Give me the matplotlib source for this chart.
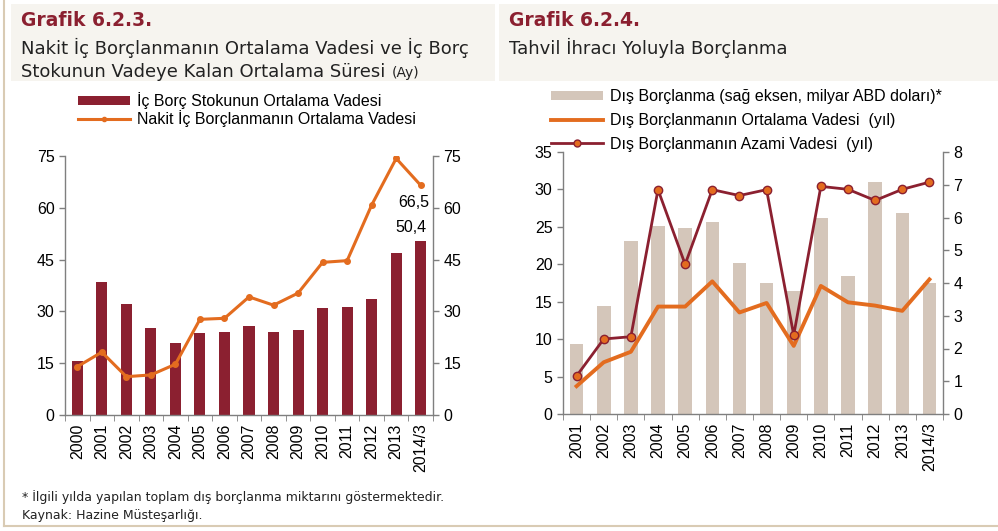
import matplotlib
matplotlib.use("Agg")
import matplotlib.pyplot as plt
from matplotlib.patches import Rectangle
from matplotlib.lines import Line2D
import numpy as np

plt.rcParams['font.family'] = ['Liberation Sans', 'DejaVu Sans']

# ---- Data: Grafik 6.2.3 ----
years_l = ["2000", "2001", "2002", "2003", "2004", "2005", "2006", "2007",
           "2008", "2009", "2010", "2011", "2012", "2013", "2014/3"]
ic_borc_stok = [15.7, 38.6, 32.2, 25.2, 20.8, 23.7, 24.1, 25.8, 24.0, 24.5,
                31.1, 31.2, 33.7, 47.0, 50.4]
nakit_ic = [14.0, 18.2, 11.1, 11.6, 14.7, 27.7, 28.0, 34.2, 31.8, 35.3,
            44.2, 44.7, 60.8, 74.3, 66.5]
left_ticks = [0, 15, 30, 45, 60, 75]

# ---- Data: Grafik 6.2.4 ----
years_r = ["2001", "2002", "2003", "2004", "2005", "2006", "2007", "2008",
           "2009", "2010", "2011", "2012", "2013", "2014/3"]
dis_borc = [9.4, 14.4, 23.1, 25.1, 24.8, 25.6, 20.2, 17.5, 16.4, 26.2,
            18.4, 31.0, 26.9, 17.5]
dis_ort = [0.85, 1.58, 1.90, 3.28, 3.28, 4.05, 3.10, 3.39, 2.08, 3.91,
           3.41, 3.31, 3.15, 4.11]
dis_azami = [1.16, 2.29, 2.36, 6.85, 4.57, 6.85, 6.67, 6.85, 2.41, 6.95,
             6.86, 6.52, 6.86, 7.08]
r_left_ticks = [0, 5, 10, 15, 20, 25, 30, 35]
r_right_ticks = [0, 1, 2, 3, 4, 5, 6, 7, 8]

DARKRED = "#8b2030"
ORANGE = "#e36c1f"
TAN = "#d4c6ba"
SPINE = "#7f7f7f"
BOXBG = "#f6f4ef"
FRAME = "#d9cbb4"
FS = 11.5

W, H = 998, 531
fig = plt.figure(figsize=(W / 100, H / 100), dpi=100)
fig.patch.set_facecolor("white")

def fx(px):
    return px / W

def fy(py):
    return 1 - py / H

# frame lines
fig.add_artist(Line2D([fx(4), fx(4)], [fy(0), fy(526)], color=FRAME, lw=1.5))
fig.add_artist(Line2D([fx(4), fx(998)], [fy(526), fy(526)], color=FRAME, lw=1.5))
# title boxes
fig.add_artist(Rectangle((fx(11), fy(81)), fx(484), 77 / H, facecolor=BOXBG, edgecolor="none"))
fig.add_artist(Rectangle((fx(499), fy(81)), fx(499), 77 / H, facecolor=BOXBG, edgecolor="none"))

title_font = ['DejaVu Sans']
fig.text(fx(21), fy(20), "Grafik 6.2.3.", color=DARKRED, fontsize=13.5, fontweight="bold",
         va="center", ha="left", family=title_font)
fig.text(fx(21), fy(48), "Nakit İç Borçlanmanın Ortalama Vadesi ve İç Borç",
         color="#222222", fontsize=13, va="center", ha="left", family=title_font)
fig.text(fx(21), fy(72), "Stokunun Vadeye Kalan Ortalama Süresi", color="#222222",
         fontsize=13, va="center", ha="left", family=title_font)
fig.text(fx(392), fy(73), "(Ay)", color="#222222", fontsize=10, va="center", ha="left",
         family=title_font)

fig.text(fx(509), fy(20), "Grafik 6.2.4.", color=DARKRED, fontsize=13.5, fontweight="bold",
         va="center", ha="left", family=title_font)
fig.text(fx(509), fy(48), "Tahvil İhracı Yoluyla Borçlanma", color="#222222",
         fontsize=13, va="center", ha="left", family=title_font)

fig.text(fx(22), fy(497), "* İlgili yılda yapılan toplam dış borçlanma miktarını göstermektedir.",
         fontsize=9, va="center", ha="left", color="#222222", family=title_font)
fig.text(fx(22), fy(516), "Kaynak: Hazine Müsteşarlığı.", fontsize=9, va="center",
         ha="left", color="#222222", family=title_font)

def style_axes(ax):
    ax.spines["top"].set_visible(False)
    for s in ["left", "right", "bottom"]:
        ax.spines[s].set_color(SPINE)
        ax.spines[s].set_linewidth(1.0)
    ax.tick_params(colors="#000000", labelsize=FS, length=4, width=1.0, direction="out")
    ax.tick_params(axis="both", color=SPINE)

# ---- Left chart ----
axL = fig.add_axes([fx(65), fy(415), fx(433 - 65), (415 - 156) / H])
xl = np.arange(len(years_l))
axL.bar(xl, ic_borc_stok, width=0.45, color=DARKRED, zorder=2)
axL.set_xlim(-0.5, len(years_l) - 0.5)
axL.set_ylim(0, 75)
axL.set_yticks(left_ticks)
axL.set_xticks(xl)
axL.set_xticklabels(years_l, rotation=90)
axL.set_xticks(np.arange(-0.5, len(years_l), 1), minor=True)
style_axes(axL)
axL.tick_params(axis="x", which="major", length=0, pad=6)
axL.tick_params(axis="x", which="minor", length=4, color=SPINE)
axL.spines["right"].set_visible(False)
axL2 = axL.twinx()
axL2.plot(xl, nakit_ic, color=ORANGE, lw=2.2, marker="o", markersize=4, zorder=3)
axL2.set_ylim(0, 75)
axL2.set_yticks(left_ticks)
style_axes(axL2)
axL2.spines["left"].set_visible(False)
axL2.spines["bottom"].set_visible(False)
axL.annotate("66,5", (xl[-1], nakit_ic[-1]), xytext=(-5, -12), textcoords="offset points",
             ha="center", va="center", fontsize=FS)
axL.annotate("50,4", (xl[-1], ic_borc_stok[-1]), xytext=(-7, 10), textcoords="offset points",
             ha="center", va="center", fontsize=FS)

legL = [Rectangle((0, 0), 1, 1, facecolor=DARKRED),
        Line2D([], [], color=ORANGE, lw=2.2, marker="o", markersize=3)]
fig.legend(legL, ["İç Borç Stokunun Ortalama Vadesi", "Nakit İç Borçlanmanın Ortalama Vadesi"],
           loc="upper left", bbox_to_anchor=(fx(78), fy(92)), frameon=False, fontsize=FS,
           handlelength=3.25, handleheight=0.5, labelspacing=0.08, handletextpad=0.45,
           borderpad=0.0, borderaxespad=0.0)

# ---- Right chart ----
axR = fig.add_axes([fx(563), fy(414), fx(943 - 563), (414 - 152) / H])
xr = np.arange(len(years_r))
axR.bar(xr, dis_borc, width=0.5, color=TAN, zorder=1)
axR.set_xlim(-0.5, len(years_r) - 0.5)
axR.set_ylim(0, 35)
axR.set_yticks(r_left_ticks)
axR.set_xticks(xr)
axR.set_xticklabels(years_r, rotation=90)
axR.set_xticks(np.arange(-0.5, len(years_r), 1), minor=True)
style_axes(axR)
axR.tick_params(axis="x", which="major", length=0, pad=6)
axR.tick_params(axis="x", which="minor", length=4, color=SPINE)
axR.spines["right"].set_visible(False)
axR2 = axR.twinx()
axR2.plot(xr, dis_ort, color=ORANGE, lw=2.8, zorder=3)
axR2.plot(xr, dis_azami, color=DARKRED, lw=2.0, marker="o", markersize=6,
          markerfacecolor=ORANGE, markeredgecolor=DARKRED, markeredgewidth=1.0, zorder=4)
axR2.set_ylim(0, 8)
axR2.set_yticks(r_right_ticks)
style_axes(axR2)
axR2.spines["left"].set_visible(False)
axR2.spines["bottom"].set_visible(False)

legR = [Rectangle((0, 0), 1, 1, facecolor=TAN),
        Line2D([], [], color=ORANGE, lw=2.8),
        Line2D([], [], color=DARKRED, lw=2.0, marker="o", markersize=5,
               markerfacecolor=ORANGE, markeredgecolor=DARKRED)]
fig.legend(legR, ["Dış Borçlanma (sağ eksen, milyar ABD doları)*",
                  "Dış Borçlanmanın Ortalama Vadesi  (yıl)",
                  "Dış Borçlanmanın Azami Vadesi  (yıl)"],
           loc="upper left", bbox_to_anchor=(fx(551), fy(89)), frameon=False, fontsize=FS,
           handlelength=3.25, handleheight=0.5, labelspacing=0.55, handletextpad=0.45,
           borderpad=0.0, borderaxespad=0.0)

fig.savefig("out.png", dpi=100, facecolor="white")
